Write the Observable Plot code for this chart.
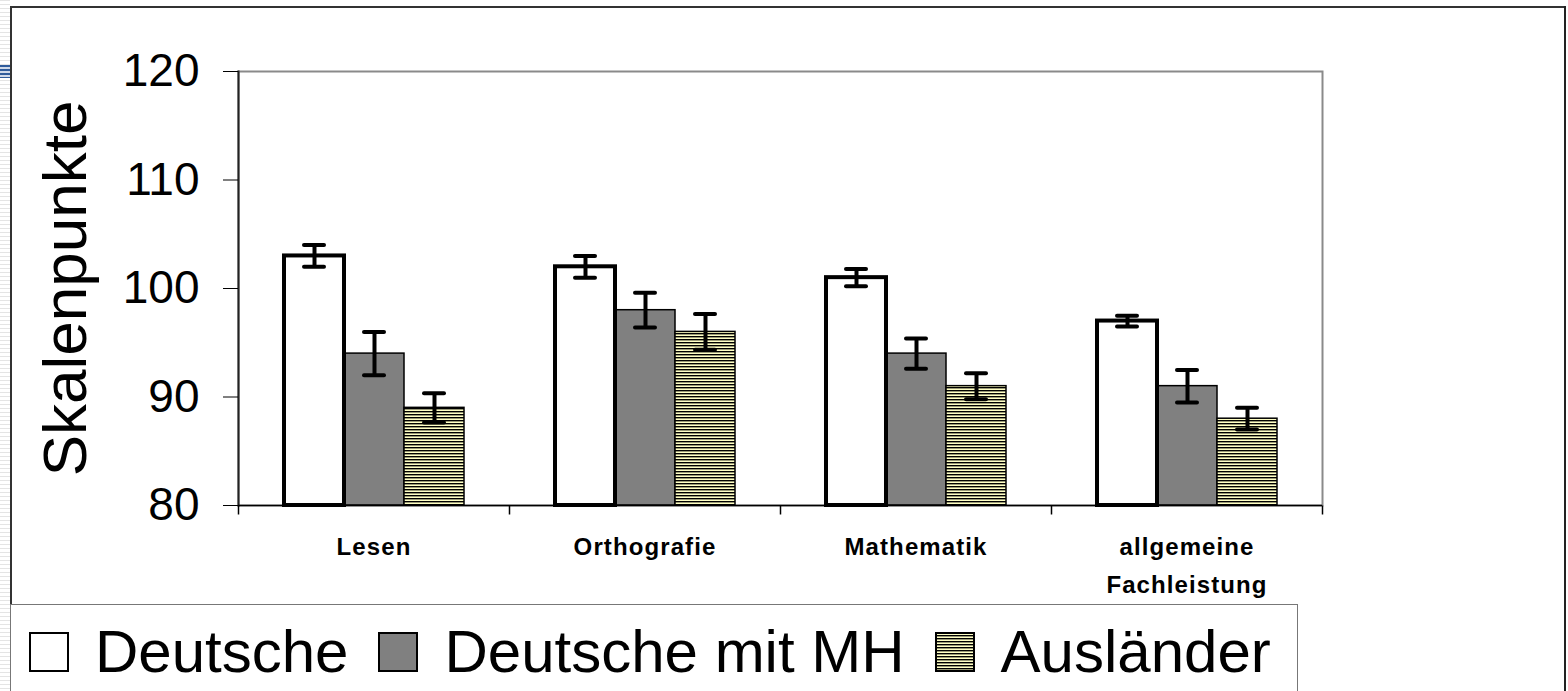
<!DOCTYPE html>
<html><head><meta charset="utf-8">
<script src="https://cdn.jsdelivr.net/npm/d3@7"></script>
<script src="https://cdn.jsdelivr.net/npm/@observablehq/plot@0.6"></script>
<style>
html,body{margin:0;padding:0;background:#fff;}
#page{position:relative;width:1568px;height:691px;overflow:hidden;font-family:"Liberation Sans",Arial,sans-serif;background:#fff;}
#chart{position:absolute;left:0;top:0;}
#stripes{position:absolute;left:0;top:0;width:10px;height:691px;background:repeating-linear-gradient(to bottom,#e4e4e4 0 1px,#fff 1px 4px);}
#blue{position:absolute;left:0;top:65px;width:10px;height:13px;background:repeating-linear-gradient(to bottom,#2f5b9b 0 2px,#cfd9ea 2px 4px);}
#frameTop{position:absolute;left:10px;top:6px;width:1556px;height:2px;background:#333;}
#frameLeft{position:absolute;left:10px;top:6px;width:2px;height:685px;background:#333;}
#frameRight{position:absolute;left:1564px;top:6px;width:2px;height:685px;background:#222;}
#legend{position:absolute;left:10px;top:604px;width:1288px;height:120px;border:1.5px solid #777;background:#fff;box-sizing:border-box;padding:17px 0 0 18px;font-size:60px;line-height:1;white-space:nowrap;color:#000;}
.sw{display:inline-block;width:40px;height:40px;margin-right:26px;vertical-align:baseline;}
.lab{margin-right:30px;}
svg g[aria-label="fx-axis tick label"]{letter-spacing:1.1px;font-weight:700;}
</style></head>
<body>
<div id="page">
  <div id="stripes"></div><div id="blue"></div>
  <div id="frameTop"></div><div id="frameLeft"></div><div id="frameRight"></div>
  <div id="chart"></div>
  <div id="legend"></div>
</div>
<script>
// ---- data ----
const categories = ["Lesen", "Orthografie", "Mathematik", "allgemeine\nFachleistung"];
const series = ["Deutsche", "Deutsche mit MH", "Ausländer"];
const deutsche = [103, 102, 101, 97];
const deutscheErr = [1.0, 1.0, 0.8, 0.5];
const deutscheMH = [94, 98, 94, 91];
const deutscheMHErr = [2.0, 1.6, 1.4, 1.5];
const auslaender = [89, 96, 91, 88];
const auslaenderErr = [1.35, 1.65, 1.2, 1.0];
const yDomain = [80, 120];
const yTicks = [80, 90, 100, 110, 120];
const yLabel = "Skalenpunkte";
const fills = ["#ffffff", "#808080", "url(#auslPattern)"];

const values = [deutsche, deutscheMH, auslaender];
const errors = [deutscheErr, deutscheMHErr, auslaenderErr];
const rows = [];
categories.forEach((c, i) => {
  series.forEach((s, j) => rows.push({cat: c, series: s, value: values[j][i], err: errors[j][i]}));
});

const W = 1568, H = 600, mL = 237, mR = 246, mT = 71, mB = 95;
const tickSym = {draw(ctx) { ctx.moveTo(0, 0); ctx.lineTo(0, 9); }};

const chart = Plot.plot({
  width: W, height: H,
  marginLeft: mL, marginRight: mR, marginTop: mT, marginBottom: mB,
  style: {fontFamily: "'Liberation Sans', Arial, sans-serif", color: "#000", background: "transparent", overflow: "visible"},
  fx: {domain: categories, padding: 0, label: null, axis: null},
  x: {domain: series, paddingInner: 0, paddingOuter: 0.73, axis: null},
  y: {domain: yDomain, axis: null},
  color: {domain: series, range: fills},
  marks: [
    Plot.frame({facet: "super", stroke: "#8a8a8a", strokeWidth: 2}),
    Plot.frame({facet: "super", anchor: "left", stroke: "#222", strokeWidth: 2}),
    Plot.barY(rows.filter(d => d.series !== series[0]), {fx: "cat", x: "series", y1: yDomain[0], y2: "value", fill: "series", stroke: "#000", strokeWidth: 1.5}),
    Plot.barY(rows.filter(d => d.series === series[0]), {fx: "cat", x: "series", y1: yDomain[0], y2: "value", fill: "series", stroke: "#000", strokeWidth: 4}),
    Plot.ruleY([yDomain[0]], {stroke: "#000", strokeWidth: 1.5}),
    Plot.ruleX(rows, {fx: "cat", x: "series", y1: d => d.value - d.err, y2: d => d.value + d.err, stroke: "#000", strokeWidth: 4}),
    Plot.tickY(rows, {fx: "cat", x: "series", y: d => d.value - d.err, stroke: "#000", strokeWidth: 4, strokeLinecap: "round", insetLeft: 20, insetRight: 20}),
    Plot.tickY(rows, {fx: "cat", x: "series", y: d => d.value + d.err, stroke: "#000", strokeWidth: 4, strokeLinecap: "round", insetLeft: 20, insetRight: 20}),
    Plot.dot(categories, {fx: d => d, frameAnchor: "bottom-left", symbol: tickSym, fill: "none", stroke: "#000", strokeWidth: 1.5}),
    Plot.dot(categories.slice(-1), {fx: d => d, frameAnchor: "bottom-right", symbol: tickSym, fill: "none", stroke: "#000", strokeWidth: 1.5}),
    Plot.axisY({ticks: yTicks, tickSize: 15, tickPadding: 24, fontSize: 46, label: null}),
    Plot.axisFx({anchor: "bottom", tickSize: 0, tickPadding: 22, fontSize: 24, lineHeight: 1.6, label: null}),
    Plot.text([yLabel], {facet: "super", frameAnchor: "left", textAnchor: "middle", rotate: -90, dx: -172, fontSize: 62, fill: "#000"})
  ]
});

// hatched pattern for "Ausländer"
const svg = d3.select(chart);
const pat = svg.insert("defs", ":first-child").append("pattern")
  .attr("id", "auslPattern").attr("patternUnits", "userSpaceOnUse")
  .attr("width", 6).attr("height", 3);
pat.append("rect").attr("width", 6).attr("height", 3).attr("fill", "#ffffc4");
pat.append("rect").attr("width", 6).attr("height", 1.4).attr("fill", "#000");

document.getElementById("chart").appendChild(chart);

// legend
const legend = d3.select("#legend");
series.forEach((s, i) => {
  const sw = legend.append("svg").attr("class", "sw").attr("width", 40).attr("height", 40);
  sw.append("rect").attr("x", 1).attr("y", 1).attr("width", 38).attr("height", 38)
    .attr("fill", fills[i]).attr("stroke", "#000").attr("stroke-width", 2);
  legend.append("span").attr("class", "lab").text(s);
});
</script>
</body></html>
